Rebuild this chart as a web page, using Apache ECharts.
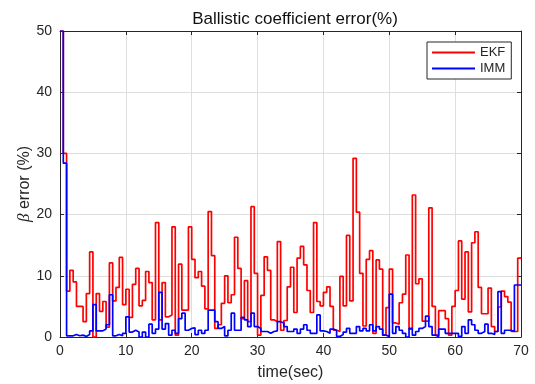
<!DOCTYPE html>
<html>
<head>
<meta charset="utf-8">
<script src="https://cdn.jsdelivr.net/npm/echarts@6/dist/echarts.min.js"></script>
<style>html,body{margin:0;padding:0;background:#fff;}#c{width:535px;height:384px;}</style>
</head>
<body>
<div id="c"></div>
<script>
const titleText = 'Ballistic coefficient error(%)';
const xName = 'time(sec)';
const seriesNames = ['EKF', 'IMM'];
const timeStep = 0.5;
const xTicks = [0, 10, 20, 30, 40, 50, 60, 70];
const yTicks = [0, 10, 20, 30, 40, 50];

const ekf = [
  50, 30, 7.5, 10.9, 9.0, 5.0, 5.0, 2.5, 7.1, 13.9,
  0.0, 7.1, 4.2, 5.8, 1.6, 12.1, 5.9, 8.1, 13.0, 5.3,
  7.8, 3.2, 8.6, 11.2, 5.1, 6.0, 10.7, 8.9, 2.8, 18.7,
  2.8, 8.9, 3.3, 3.6, 18.0, 0.3, 11.9, 4.4, 4.4, 18.0,
  12.7, 9.7, 10.7, 8.3, 4.6, 20.5, 13.3, 1.4, 2.0, 5.5,
  10.0, 5.6, 6.9, 16.3, 11.2, 3.0, 9.2, 2.5, 21.3, 10.4,
  0.3, 6.8, 13.1, 10.9, 2.8, 2.5, 15.6, 1.1, 2.7, 8.2,
  11.4, 4.0, 12.9, 14.8, 11.8, 7.6, 4.0, 18.7, 5.8, 5.1,
  7.3, 8.2, 5.0, 1.1, 0.9, 9.9, 5.1, 16.6, 5.9, 29.2,
  20.4, 10.4, 1.8, 12.7, 14.1, 0.6, 12.6, 11.1, 0.3, 4.8,
  11.1, 2.3, 2.1, 5.6, 7.0, 13.4, 1.3, 23.2, 8.7, 9.5,
  2.6, 2.6, 21.1, 5.0, 0.3, 4.3, 4.3, 3.0, 0.3, 5.0,
  7.6, 15.7, 6.2, 13.9, 4.1, 15.4, 17.2, 8.1, 3.8, 3.8,
  8.0, 1.7, 0.9, 4.9, 7.5, 6.6, 5.7, 0.9, 0.9, 12.9,
  12.9
];

const imm = [
  50, 28.4, 0.2, 0.2, 0.4, 0.2, 0.3, 0.1, 0.4, 1.0,
  5.3, 1.0, 1.0, 1.3, 2.0, 6.9, 0.2, 0.4, 0.2, 0.6,
  3.3, 0.8, 1.1, 0.8, 0.0, 0.8, 0.0, 2.1, 0.6, 1.3,
  7.3, 1.3, 2.2, 0.3, 1.1, 0.6, 3.0, 3.9, 1.1, 1.4,
  1.5, 0.4, 1.1, 0.6, 1.1, 4.4, 4.4, 2.5, 1.4, 1.7,
  0.2, 1.1, 3.9, 1.1, 1.1, 3.2, 2.8, 1.7, 3.9, 1.7,
  1.4, 0.9, 0.9, 0.6, 0.9, 1.0, 2.5, 2.3, 1.7, 0.9,
  0.9, 1.3, 0.6, 1.3, 2.0, 1.1, 0.6, 0.6, 3.6, 1.0,
  0.9, 0.6, 1.3, 1.1, 0.1, 0.4, 0.8, 1.4, 0.6, 0.6,
  1.7, 1.0, 1.4, 1.0, 2.0, 1.0, 1.7, 1.3, 0.3, 0.1,
  7.0, 0.6, 1.7, 1.1, 0.6, 0.0, 1.4, 0.3, 0.9, 1.4,
  1.7, 3.4, 1.7, 0.3, 0.1, 1.3, 1.3, 0.6, 0.6, 0.6,
  0.6, 0.1, 1.7, 0.6, 2.8, 2.0, 1.1, 0.6, 0.9, 2.1,
  0.6, 0.4, 0.9, 7.4, 0.6, 1.1, 1.1, 0.9, 8.5, 8.5,
  8.5
];

const toPairs = arr => arr.map((v, i) => [i * timeStep, v]);

const font = 'Liberation Sans, Arial, Helvetica, sans-serif';
const axisColor = '#262626';
const gridColor = '#dedede';

const chart = echarts.init(document.getElementById('c'), null, {renderer: 'canvas'});
const xMin = xTicks[0], xMax = xTicks[xTicks.length - 1];
const yMin = yTicks[0], yMax = yTicks[yTicks.length - 1];
const xInt = xTicks[1] - xTicks[0], yInt = yTicks[1] - yTicks[0];

chart.setOption({
  animation: false,
  backgroundColor: '#fff',
  title: {
    text: titleText,
    left: 290, top: 6, textAlign: 'center',
    textStyle: {fontFamily: font, fontSize: 17, fontWeight: 'normal', color: '#111'}
  },
  legend: {
    data: seriesNames,
    orient: 'vertical',
    left: 427, top: 42,
    icon: 'rect',
    itemWidth: 43, itemHeight: 2,
    itemGap: 3,
    padding: [4, 6, 4, 5],
    backgroundColor: '#fff',
    borderColor: axisColor, borderWidth: 1,
    textStyle: {fontFamily: font, fontSize: 13, color: axisColor}
  },
  grid: {left: 60, right: 14, top: 31, bottom: 47, containLabel: false, outerBoundsMode: 'none'},
  xAxis: [{
    type: 'value', min: xMin, max: xMax, interval: xInt,
    name: xName, nameLocation: 'middle', nameGap: 28, nameMoveOverlap: false,
    nameTextStyle: {fontFamily: font, fontSize: 16, color: axisColor},
    axisLine: {show: true, lineStyle: {color: axisColor, width: 1}},
    axisTick: {show: true, inside: true, length: 4, lineStyle: {color: axisColor}},
    axisLabel: {fontFamily: font, fontSize: 14, color: axisColor, margin: 7},
    splitLine: {show: true, lineStyle: {color: gridColor, width: 1}}
  }, {
    type: 'value', position: 'top', min: xMin, max: xMax, interval: xInt,
    axisLine: {show: true, onZero: false, lineStyle: {color: axisColor, width: 1}},
    axisTick: {show: true, inside: true, length: 4, lineStyle: {color: axisColor}},
    axisLabel: {show: false}, splitLine: {show: false}
  }],
  yAxis: [{
    type: 'value', min: yMin, max: yMax, interval: yInt,
    name: '{b|β} error (%)', nameLocation: 'middle', nameGap: 27, nameRotate: 90,
    nameMoveOverlap: false,
    nameTextStyle: {
      fontFamily: font, fontSize: 16, color: axisColor,
      rich: {b: {fontFamily: 'Liberation Serif, DejaVu Serif, serif', fontStyle: 'italic', fontSize: 17, color: axisColor}}
    },
    axisLine: {show: true, onZero: false, lineStyle: {color: axisColor, width: 1}},
    axisTick: {show: true, inside: true, length: 4, lineStyle: {color: axisColor}},
    axisLabel: {fontFamily: font, fontSize: 14, color: axisColor, margin: 8},
    splitLine: {show: true, lineStyle: {color: gridColor, width: 1}}
  }, {
    type: 'value', position: 'right', min: yMin, max: yMax, interval: yInt,
    axisLine: {show: true, onZero: false, lineStyle: {color: axisColor, width: 1}},
    axisTick: {show: true, inside: true, length: 4, lineStyle: {color: axisColor}},
    axisLabel: {show: false}, splitLine: {show: false}
  }],
  series: [{
    name: seriesNames[0], type: 'line', step: 'end',
    data: toPairs(ekf), showSymbol: false, symbol: 'none',
    lineStyle: {color: '#ff0000', width: 1.7}, itemStyle: {color: '#ff0000'},
    clip: true
  }, {
    name: seriesNames[1], type: 'line', step: 'end',
    data: toPairs(imm), showSymbol: false, symbol: 'none',
    lineStyle: {color: '#0000ff', width: 1.7}, itemStyle: {color: '#0000ff'},
    clip: true
  }]
});
</script>
</body>
</html>
